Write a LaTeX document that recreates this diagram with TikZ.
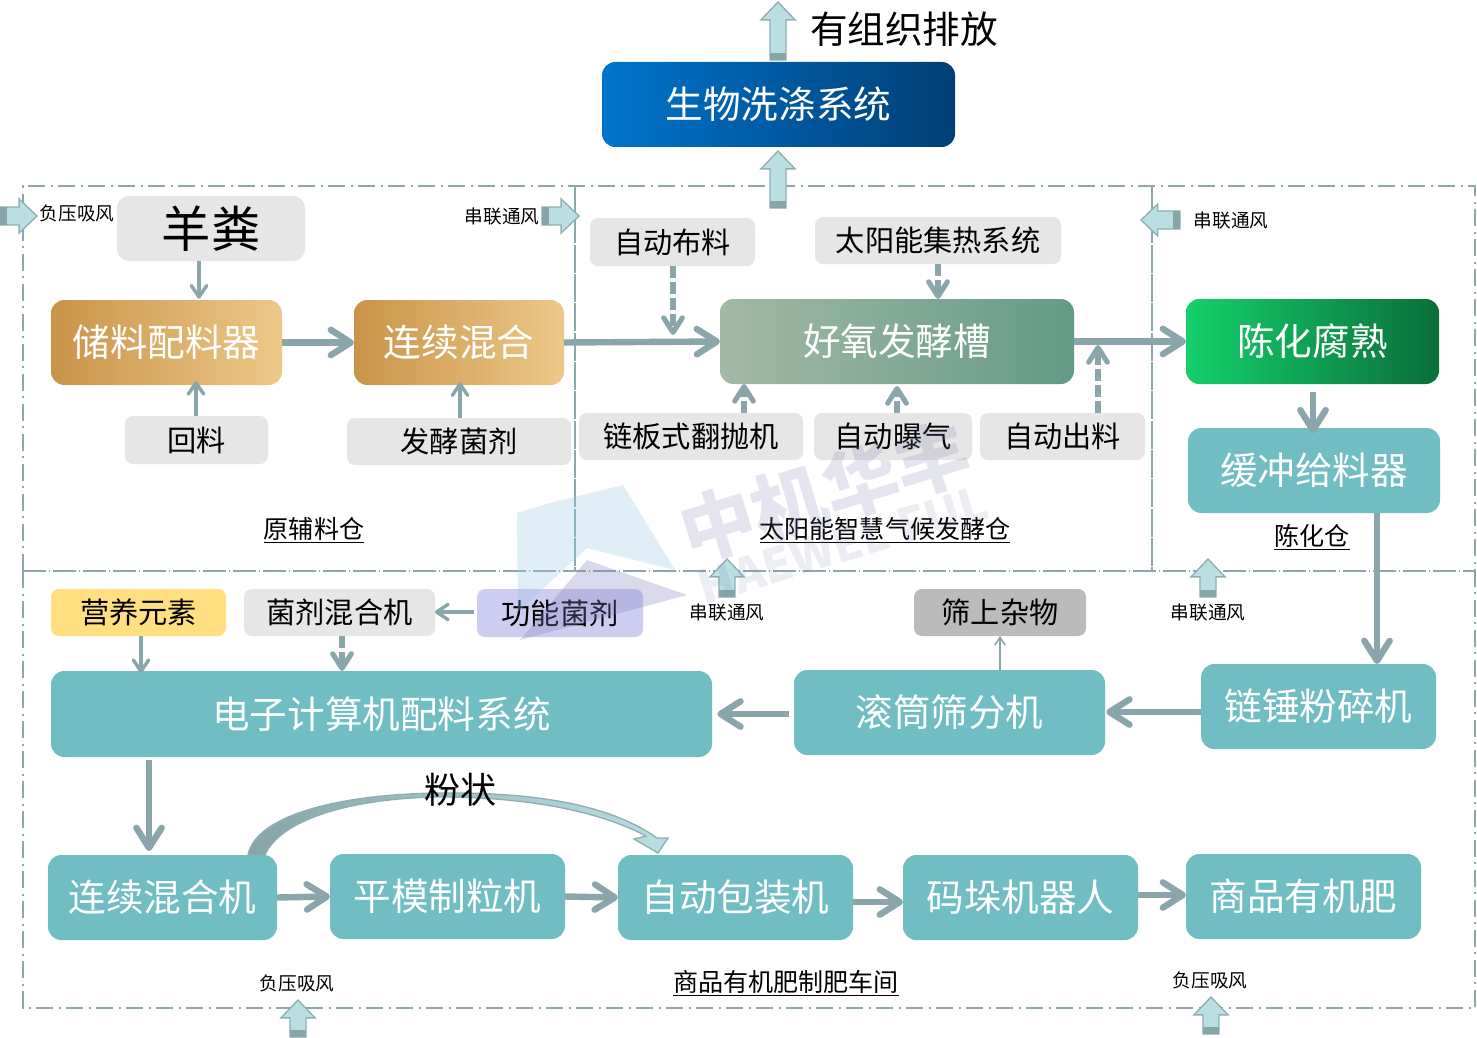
\documentclass[tikz,border=0pt]{standalone}
\usepackage{fontspec}
\setmainfont{Noto Sans CJK SC}
\usetikzlibrary{arrows.meta,calc}
\definecolor{lineC}{HTML}{8AA6AA}
\definecolor{frameC}{HTML}{8BA9AC}
\definecolor{tealC}{HTML}{70BDC3}
\definecolor{grayC}{HTML}{E6E6E6}
\definecolor{ventF}{HTML}{B9DFE3}
\definecolor{ventE}{HTML}{8FAEB1}
\definecolor{ventD}{HTML}{86A5A8}
\newcommand{\bigT}{\fontsize{28.2}{32}\selectfont}
\newcommand{\midT}{\fontsize{21.9}{26}\selectfont}
\newcommand{\labT}{\fontsize{18.8}{22}\selectfont}
\newcommand{\tinyT}{\fontsize{14}{16}\selectfont}
\definecolor{goldL}{HTML}{C99449}
\definecolor{goldR}{HTML}{EDC888}
\definecolor{blueL}{HTML}{0074CC}
\definecolor{blueR}{HTML}{003F76}
\definecolor{sageL}{HTML}{A3B9A6}
\definecolor{sageR}{HTML}{639B87}
\definecolor{greenL}{HTML}{15D06C}
\definecolor{greenR}{HTML}{0A6E39}
\definecolor{wmBlue}{RGB}{150,200,230}
\definecolor{wmPurple}{RGB}{130,130,190}
\definecolor{wmText}{RGB}{120,128,175}
\tikzset{
  x=0.75pt,y=-0.75pt,
  boxbase/.style={inner sep=0pt,outer sep=0pt,align=center},
  big/.style={boxbase,rounded corners=10pt,text=white,font=\bigT},
  small/.style={boxbase,rounded corners=6pt,text=black,font=\midT},
  teal/.style={big,fill=tealC},
  gold/.style={big,left color=goldL,right color=goldR},
  graybox/.style={small,fill=grayC},
  caption/.style={inner sep=0pt,font=\labT},
  vlabel/.style={inner sep=0pt,font=\tinyT},
  thickarrow/.style={draw=lineC,line width=4.8pt,-{Straight Barb[round,length=15pt,width=19pt,line width=4.8pt]}},
  medarrow/.style={draw=lineC,line width=2.6pt,-{Straight Barb[round,length=8.5pt,width=11.5pt,line width=2.6pt]}},
  thinarrow/.style={draw=lineC,line width=1.1pt,-{Straight Barb[length=6pt,width=8pt,line width=1.1pt]}},
  dasharrow/.style={draw=lineC,line width=3.8pt,dash pattern=on 9pt off 3pt,-{Straight Barb[round,length=11pt,width=14pt,line width=3.8pt]}},
  framedd/.style={draw=frameC,line width=1.4pt,dash pattern=on 13pt off 4pt on 2pt off 3.5pt},
  framesolid/.style={draw=frameC,line width=1.4pt,dash pattern=on 21pt off 1pt},
}
\newcommand{\bx}[7]{% name,x1,y1,x2,y2,style,text
  \pgfmathsetmacro{\cxx}{(#2+#4)/2}\pgfmathsetmacro{\cyy}{(#3+#5)/2}
  \pgfmathsetmacro{\bww}{(#4-#2)*0.75}\pgfmathsetmacro{\bhh}{(#5-#3)*0.75}
  \node[#6,minimum width=\bww pt,minimum height=\bhh pt] (#1) at (\cxx,\cyy) {#7};}
\newcommand{\vent}[7]{% name,tipx,tipy,angle,length,halfwidth,shafthalf
  \begin{scope}[shift={(#2,#3)},rotate=#4]
    \coordinate (#1) at (0,0);
    \pgfmathsetmacro{\hl}{#6*1.05}
    \path[fill=ventF,draw=ventE,line width=1pt,line join=miter]
      (0,0) -- (-\hl,#6) -- (-\hl,#7) -- (-#5,#7) -- (-#5,-#7) -- (-\hl,-#7) -- (-\hl,-#6) -- cycle;
    \path[fill=ventD] (-#5,#7) rectangle (-#5+7,-#7);
  \end{scope}}
\begin{document}
\begin{tikzpicture}
\useasboundingbox (0,0) rectangle (1477,1038);
\fill[white] (0,0) rectangle (1477,1038);
% frames
\path[framedd] (23,571) -- (23,186) -- (1475,186) -- (1475,571);
\path[framedd] (23,571) -- (23,1008) -- (1475,1008) -- (1475,571);
\path[framedd,dash pattern=on 17pt off 2.5pt on 1pt off 2pt] (23,571) -- (1475,571);
\path[framesolid] (575,186) -- (575,571);
\path[framesolid] (1152,186) -- (1152,571);
% boxes
\bx{bio}{602}{62}{955}{147}{big,left color=blueL,right color=blueR}{生物洗涤系统}
\bx{yf}{117}{196}{305}{261}{small,fill=grayC,font=\fontsize{37}{40}\selectfont,rounded corners=9pt}{羊粪}
\bx{clq}{51}{300}{282}{385}{gold}{储料配料器}
\bx{lxh}{354}{300}{564}{385}{gold}{连续混合}
\bx{hl}{125}{416}{268}{464}{graybox}{回料}
\bx{fj}{347}{418}{571}{465}{graybox}{发酵菌剂}
\bx{bl}{590}{218}{755}{266}{graybox}{自动布料}
\bx{tyn}{815}{217}{1061}{264}{graybox}{太阳能集热系统}
\bx{hy}{720}{299}{1074}{384}{big,left color=sageL,right color=sageR}{好氧发酵槽}
\bx{lb}{579}{413}{803}{460}{graybox}{链板式翻抛机}
\bx{pq}{814}{413}{972}{460}{graybox}{自动曝气}
\bx{cl}{980}{413}{1145}{460}{graybox}{自动出料}
\bx{chfs}{1186}{299}{1439}{384}{big,left color=greenL,right color=greenR}{陈化腐熟}
\bx{hc}{1188}{428}{1440}{513}{teal}{缓冲给料器}
\bx{lc}{1201}{664}{1436}{749}{teal}{链锤粉碎机}
\bx{gt}{794}{670}{1105}{755}{teal}{滚筒筛分机}
\bx{ss}{914}{589}{1086}{636}{small,fill={rgb,255:red,187;green,187;blue,187}}{筛上杂物}
\bx{dz}{51}{671}{712}{757}{teal}{电子计算机配料系统}
\bx{yy}{51}{589}{226}{636}{small,fill={rgb,255:red,255;green,223;blue,128}}{营养元素}
\bx{jj}{244}{589}{435}{636}{graybox}{菌剂混合机}
\bx{gn}{477}{589}{643}{637}{small,fill={rgb,255:red,205;green,205;blue,240}}{功能菌剂}
\bx{lxj}{48}{855}{277}{940}{teal}{连续混合机}
\bx{pm}{330}{854}{565}{939}{teal}{平模制粒机}
\bx{bz}{618}{855}{853}{940}{teal}{自动包装机}
\bx{md}{903}{855}{1138}{940}{teal}{码垛机器人}
\bx{sp}{1186}{854}{1421}{939}{teal}{商品有机肥}
% free text
\node[inner sep=0pt,font=\bigT] (yzz) at (904,29) {有组织排放};
% vent arrows
\vent{a1}{778}{2}{90}{58}{17}{8}
\vent{a2}{778}{151}{90}{57}{17}{8}
\vent{a3}{37}{216}{0}{37}{17}{9}
\vent{a4}{579}{216}{0}{37}{17}{9}
\vent{a5}{1141}{220}{180}{39}{16}{9}
\vent{a6}{727}{559}{90}{38}{17}{8}
\vent{a7}{1208}{559}{90}{38}{17}{8}
\vent{a8}{298}{1000}{90}{37}{17}{8}
\vent{a9}{1211}{997}{90}{37}{17}{8}
% free ends
\coordinate (blEnd) at (673,335);
\coordinate (clEnd) at (1098,345);
% thick connectors
\draw[thickarrow] (clq.east) -- (lxh.west);
\draw[thickarrow] (lxh.east) -- (hy.west);
\draw[thickarrow] (hy.east) -- (chfs.west);
\draw[thickarrow,shorten <=6pt,shorten >=-4pt] (1313,0 |- chfs.south) -- (1313,0 |- hc.north);
\draw[thickarrow] (1377,0 |- hc.south) -- (1377,0 |- lc.north);
\draw[thickarrow,shorten >=1pt] (0,712 -| lc.west) -- (0,712 -| gt.east);
\draw[thickarrow,shorten <=4pt,shorten >=4pt] (0,714 -| gt.west) -- (0,714 -| dz.east);
\draw[thickarrow,shorten <=2pt,shorten >=3pt] (149,0 |- dz.south) -- (149,0 |- lxj.north);
\draw[thickarrow] (lxj.east) -- (pm.west);
\draw[thickarrow] (pm.east) -- (bz.west);
\draw[thickarrow] (0,902 -| bz.east) -- (0,902 -| md.west);
\draw[thickarrow] (0,895 -| md.east) -- (0,895 -| sp.west);
% medium connectors
\draw[medarrow,shorten >=1pt] (199,0 |- yf.south) -- (199,0 |- clq.north);
\draw[medarrow,shorten >=-3pt] (196,0 |- hl.north) -- (196,0 |- clq.south);
\draw[medarrow,shorten >=-2pt] (460,0 |- fj.north) -- (460,0 |- lxh.south);
\draw[medarrow,shorten >=-1.5pt] (141,0 |- yy.south) -- (141,0 |- dz.north);
\draw[medarrow,shorten <=2pt] (0,612 -| gn.west) -- (0,612 -| jj.east);
\draw[dasharrow] (342,0 |- jj.south) -- (342,0 |- dz.north);
\draw[dasharrow] (673,0 |- bl.south) -- (blEnd);
\draw[dasharrow] (938,0 |- tyn.south) -- (938,0 |- hy.north);
\draw[dasharrow] (744,0 |- lb.north) -- (744,0 |- hy.south);
\draw[dasharrow,shorten >=1.5pt] (897,0 |- pq.north) -- (897,0 |- hy.south);
\draw[dasharrow] (1098,0 |- cl.north) -- (clEnd);
\draw[thinarrow] (1000,0 |- gt.north) -- (1000,0 |- ss.south);
% curved arrow
\path[left color=ventD,middle color=ventD,right color=ventF,draw=ventE,line width=1pt,line join=miter]
  (248,855) .. controls (256,815) and (340,794) .. (440,793)
  .. controls (540,792) and (612,806) .. (657,838)
  -- (668,838) -- (658,853) -- (634,839) -- (646,836)
  .. controls (595,809) and (520,797) .. (440,797)
  .. controls (350,798) and (280,820) .. (265,855) -- cycle;
\node[inner sep=0pt,font=\fontsize{27}{30}\selectfont] (fz) at (460,790) {粉状};
\node[caption] (c1) at (314,530) {\underline{原辅料仓}};
\node[caption] (c2) at (885,530) {\underline{太阳能智慧气候发酵仓}};
\node[caption] (c3) at (1312,537) {\underline{陈化仓}};
\node[caption] (c4) at (786,983) {\underline{商品有机肥制肥车间}};
\node[vlabel] (v1) at (77,213) {负压吸风};
\node[vlabel] (v2) at (502,216) {串联通风};
\node[vlabel] (v3) at (1231,220) {串联通风};
\node[vlabel] (v4) at (727,612) {串联通风};
\node[vlabel] (v5) at (1208,612) {串联通风};
\node[vlabel] (v6) at (297,983) {负压吸风};
\node[vlabel] (v7) at (1210,980) {负压吸风};
% watermark
\fill[wmBlue,opacity=0.3] (517,513) -- (550,503) -- (623,485) -- (675,570) -- (587,548) -- (518,612) -- cycle;
\fill[wmPurple,opacity=0.3] (587,560) -- (687,595) -- (520,640) -- cycle;
\node[opacity=0.2,text=wmText,rotate=17,inner sep=0pt,font=\bfseries\fontsize{56}{60}\selectfont] (wm1) at (825,492) {中机华丰};
\node[opacity=0.13,text=wmText,rotate=17,inner sep=0pt,font=\bfseries\fontsize{35}{40}\selectfont] (wm2) at (843,545) {HAEWEL FUL};
\end{tikzpicture}
\end{document}
